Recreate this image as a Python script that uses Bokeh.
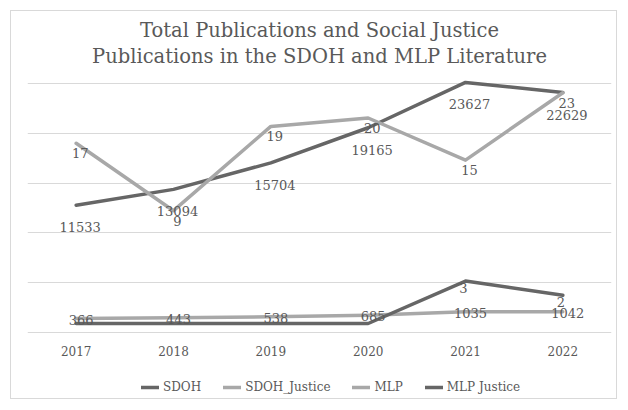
from bokeh.plotting import figure
from bokeh.models import (Range1d, FactorRange, FixedTicker, ColumnDataSource, Legend,
                          LegendItem, Grid)
from bokeh.transform import dodge
from bokeh.core.properties import value
from bokeh.embed import file_html
from bokeh.resources import INLINE

# ---- data ----
years = ["2017", "2018", "2019", "2020", "2021", "2022"]
sdoh = [11533, 13094, 15704, 19165, 23627, 22629]
sdoh_justice = [366, 443, 538, 685, 1035, 1042]
mlp = [17, 9, 19, 20, 15, 23]
mlp_justice = [0, 0, 0, 0, 3, 2]
grid_ticks = [0, 5000, 10000, 15000, 20000, 25000]
title_lines = ["Total Publications and Social Justice",
               "Publications in the SDOH and MLP Literature"]
series_names = ["SDOH", "SDOH_Justice", "MLP", "MLP Justice"]

DARK = "#666666"
LIGHT = "#a8a8a8"
TEXT = "#595959"
FONT = "DejaVu Serif"

p = figure(width=607, height=389, x_range=FactorRange(*years),
           y_range=Range1d(-6627, 32229),
           output_backend="svg", toolbar_location=None,
           x_axis_location=None, y_axis_location=None,
           min_border_left=16, min_border_right=7, min_border_top=0, min_border_bottom=2)
p.styles = {"border": "1px solid #d9d9d9", "margin-left": "10px", "margin-top": "10px"}
p.extra_y_ranges = {"sdoh": Range1d(-7506, 30614),
                    "mlp": Range1d(-13.29, 32.64),
                    "mlpj": Range1d(-5.30, 22.05)}
p.outline_line_color = None
p.xgrid.visible = False
p.ygrid.visible = False
p.add_layout(Grid(dimension=1, ticker=FixedTicker(ticks=grid_ticks),
                  grid_line_color="#d9d9d9", grid_line_width=1))

src = ColumnDataSource(dict(year=years, sdoh=sdoh, sdoh_justice=sdoh_justice, mlp=mlp,
                            mlp_justice=mlp_justice,
                            base=[grid_ticks[0]] * len(years),
                            sdoh_t=[str(v) for v in sdoh],
                            sj_t=[str(v) for v in sdoh_justice],
                            mlp_t=[str(v) for v in mlp]))
nz = [i for i, v in enumerate(mlp_justice) if v != 0]
src_mj = ColumnDataSource(dict(year=[years[i] for i in nz],
                               mlp_justice=[mlp_justice[i] for i in nz],
                               t=[str(mlp_justice[i]) for i in nz]))

lw = 3.5
r1 = p.line("year", "sdoh", source=src, y_range_name="sdoh", line_color=DARK,
            line_width=lw, line_join="round", line_cap="round")
r2 = p.line("year", "sdoh_justice", source=src, y_range_name="sdoh", line_color=LIGHT,
            line_width=lw, line_join="round", line_cap="round")
r3 = p.line("year", "mlp", source=src, y_range_name="mlp", line_color=LIGHT,
            line_width=lw, line_join="round", line_cap="round")
r4 = p.line("year", "mlp_justice", source=src, y_range_name="mlpj", line_color=DARK,
            line_width=lw, line_join="round", line_cap="round")

common = dict(text_align="center", text_baseline="middle", text_font=value(FONT),
              text_color=TEXT)
p.text(x="year", y="sdoh", text="sdoh_t", source=src, y_range_name="sdoh",
       x_offset=4, y_offset=22, text_font_size="13px", **common)
p.text(x="year", y="sdoh_justice", text="sj_t", source=src, y_range_name="sdoh",
       x_offset=5, y_offset=1, text_font_size="13px", **common)
p.text(x="year", y="mlp", text="mlp_t", source=src, y_range_name="mlp",
       x_offset=4, y_offset=10, text_font_size="13px", **common)
p.text(x="year", y="mlp_justice", text="t", source=src_mj, y_range_name="mlpj",
       x_offset=-2, y_offset=7, text_font_size="13px", **common)

# category labels under the baseline gridline
p.text(x="year", y="base", text="year", source=src, y_offset=19,
       text_font_size="12px", **common)

# two-line title, centred over the plot
tsrc = ColumnDataSource(dict(x=[years[2], years[2]], y=[grid_ticks[-1]] * 2,
                             t=title_lines, off=[-53, -27]))
p.text(x=dodge("x", 0.5, range=p.x_range), y="y", text="t", y_offset="off", source=tsrc,
       text_font_size="19.5px", **common)

legend = Legend(items=[LegendItem(label=series_names[0], renderers=[r1]),
                       LegendItem(label=series_names[1], renderers=[r2]),
                       LegendItem(label=series_names[2], renderers=[r3]),
                       LegendItem(label=series_names[3], renderers=[r4])],
                orientation="horizontal", location=(114, 3),
                glyph_width=18, glyph_height=16,
                label_text_font=FONT, label_text_font_size="12px", label_text_color=TEXT,
                border_line_color=None, background_fill_alpha=0, spacing=22, padding=0,
                margin=0, label_standoff=4)
p.add_layout(legend)

open("out.html", "w").write(file_html(p, INLINE))
